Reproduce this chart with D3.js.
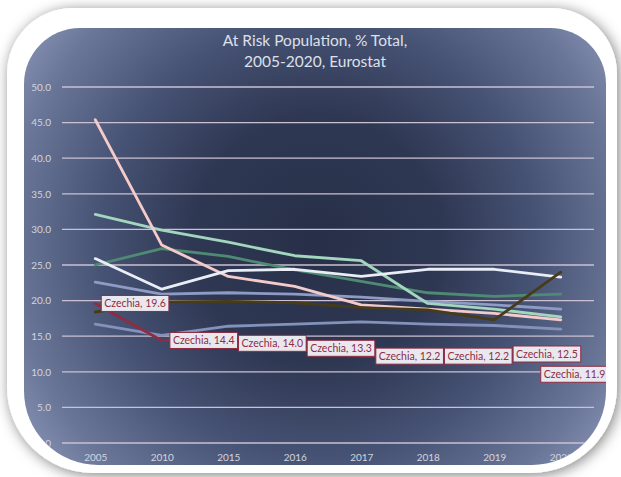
<!DOCTYPE html>
<html>
<head>
<meta charset="utf-8">
<script src="https://cdn.jsdelivr.net/npm/d3@7"></script>
<style>
  html, body { margin: 0; padding: 0; background: #ffffff; }
  svg { display: block; }
</style>
</head>
<body>
<div id="chartDiv"></div>
<script>
// At risk population chart

var years = ['2005', '2010', '2015', '2016', '2017', '2018', '2019', '2020'];
var yTicks = [0, 5, 10, 15, 20, 25, 30, 35, 40, 45, 50];

var netherlands = [16.7, 15.1, 16.4, 16.7, 17.0, 16.7, 16.5, 16.0];
var belgium     = [22.6, 20.9, 21.1, 20.9, 20.5, 19.9, 19.4, 18.8];
var ireland     = [25.0, 27.3, 26.2, 24.3, 22.7, 21.1, 20.6, 20.9];
var hungary     = [32.1, 29.9, 28.2, 26.3, 25.6, 19.6, 18.8, 17.7];
var poland      = [45.4, 27.8, 23.4, 22.0, 19.4, 18.8, 18.2, 17.3];
var estonia     = [25.9, 21.6, 24.2, 24.4, 23.4, 24.4, 24.4, 23.3];
var germany     = [18.4, 19.8, 19.9, 19.7, 19.0, 18.7, 17.3, 24.0];
var czechia     = [19.6, 14.4, 14.0, 13.3, 12.2, 12.2, 12.5, 11.9];

var chartWidth = 621;
var chartHeight = 477;

var series = [
  { name: 'Netherlands', values: netherlands, color: '#8392bb' },
  { name: 'Belgium', values: belgium, color: '#8e9bc4' },
  { name: 'Ireland', values: ireland, color: '#4f8a72' },
  { name: 'Hungary', values: hungary, color: '#a2d6bf' },
  { name: 'Poland', values: poland, color: '#f3cbca' },
  { name: 'Estonia', values: estonia, color: '#e9edf6' },
  { name: 'Germany', values: germany, color: '#463c1a' },
  { name: 'Czechia', values: czechia, color: '#8e2c42' }
];

// rounded rect with separate top / bottom corner radius
function roundedPath(x0, y0, w, h, rt, rb) {
  var x1 = x0 + w, y1 = y0 + h;
  return 'M' + (x0 + rt) + ',' + y0 +
         'H' + (x1 - rt) + 'A' + rt + ',' + rt + ' 0 0 1 ' + x1 + ',' + (y0 + rt) +
         'V' + (y1 - rb) + 'A' + rb + ',' + rb + ' 0 0 1 ' + (x1 - rb) + ',' + y1 +
         'H' + (x0 + rb) + 'A' + rb + ',' + rb + ' 0 0 1 ' + x0 + ',' + (y1 - rb) +
         'V' + (y0 + rt) + 'A' + rt + ',' + rt + ' 0 0 1 ' + (x0 + rt) + ',' + y0 + 'Z';
}

var svg = d3.select('#chartDiv')
            .append('svg')
            .attr('width', chartWidth)
            .attr('height', chartHeight);

var defs = svg.append('defs');

var shadow = defs.append('filter')
                 .attr('id', 'shadow')
                 .attr('x', '-20%').attr('y', '-20%')
                 .attr('width', '140%').attr('height', '140%');
shadow.append('feDropShadow')
      .attr('dx', 2).attr('dy', 2)
      .attr('stdDeviation', 7)
      .attr('flood-color', '#000')
      .attr('flood-opacity', 0.5);

var grad = defs.append('radialGradient')
               .attr('id', 'panelGrad')
               .attr('gradientUnits', 'userSpaceOnUse')
               .attr('cx', 318).attr('cy', 240).attr('r', 360);
[[0, '#272f48'], [0.35, '#2f3853'], [0.6, '#465274'], [0.85, '#6a7698'], [1, '#8893b4']].forEach(function(s) {
  grad.append('stop').attr('offset', s[0]).attr('stop-color', s[1]);
});

var panelD = roundedPath(24, 28, 582, 437, 56, 74);

defs.append('clipPath')
    .attr('id', 'panelClip')
    .append('path')
    .attr('d', panelD);

// white frame
svg.append('path')
   .attr('d', roundedPath(7, 8, 610, 465, 66, 86))
   .attr('fill', '#ffffff')
   .attr('filter', 'url(#shadow)');

svg.append('path')
   .attr('d', panelD)
   .attr('fill', 'url(#panelGrad)');

var g = svg.append('g').attr('clip-path', 'url(#panelClip)');

// Title
var title = g.append('text')
             .attr('text-anchor', 'middle')
             .attr('fill', '#dde0e9')
             .style('font-family', 'Lato, "Open Sans", sans-serif')
             .style('font-size', '15.5px');
title.append('tspan').attr('x', 315).attr('y', 46).text('At Risk Population, % Total,');
title.append('tspan').attr('x', 315).attr('y', 67).text('2005-2020, Eurostat');

var x = d3.scalePoint().domain(years).range([62, 594]).padding(0.5);
var y = d3.scaleLinear().domain([0, 50]).range([443, 87]);

// gridlines
g.append('g')
 .selectAll('line')
 .data(yTicks)
 .enter()
 .append('line')
 .attr('x1', 62).attr('x2', 594)
 .attr('y1', function(d) { return y(d); })
 .attr('y2', function(d) { return y(d); })
 .attr('stroke', '#cbc1d3')
 .attr('stroke-width', 1.3);

// y axis labels
var yAxis = g.append('g')
             .attr('transform', 'translate(52,0)')
             .call(d3.axisLeft(y).tickValues(yTicks).tickFormat(d3.format('.1f')).tickSize(0).tickPadding(1));
yAxis.select('.domain').remove();
yAxis.selectAll('text')
     .attr('fill', '#d2d5df')
     .style('font-family', 'Lato, sans-serif')
     .style('font-size', '10px');

// x axis labels
var xAxis = g.append('g')
             .attr('transform', 'translate(0,452)')
             .call(d3.axisBottom(x).tickSize(0).tickPadding(2));
xAxis.select('.domain').remove();
xAxis.selectAll('text')
     .attr('fill', '#d2d5df')
     .style('font-family', 'Lato, sans-serif')
     .style('font-size', '10px');

// lines
var line = d3.line()
             .x(function(d, i) { return x(years[i]); })
             .y(function(d) { return y(d); });

g.selectAll('path.series')
 .data(series)
 .enter()
 .append('path')
 .attr('class', 'series')
 .attr('d', function(d) { return line(d.values); })
 .attr('fill', 'none')
 .attr('stroke', function(d) { return d.color; })
 .attr('stroke-width', 2.8)
 .attr('stroke-linejoin', 'round')
 .attr('stroke-linecap', 'round');

// Czechia data labels
var labelColor = '#8e2c42';
var prevRight = -Infinity;
czechia.forEach(function(v, i) {
  var px = x(years[i]);
  var py = y(v);
  var lg = g.append('g');
  var box = lg.append('rect')
              .attr('fill', '#e9e8ef')
              .attr('stroke', labelColor)
              .attr('stroke-width', 1);
  var t = lg.append('text')
            .attr('fill', labelColor)
            .style('font-family', 'Lato, sans-serif')
            .style('font-size', '10.5px')
            .text('Czechia, ' + d3.format('.1f')(v));
  var w = t.node().getComputedTextLength() + 6;
  var h = 16;
  var left = Math.max(px + 6, prevRight + 1);
  var top = py - h / 2;
  if (left + w > 606) {
    // no room on the right: put it under the point
    left = px - 20;
    top = py + 8;
  }
  box.attr('x', left).attr('y', top).attr('width', w).attr('height', h);
  t.attr('x', left + 3).attr('y', top + h / 2).attr('dy', '0.35em');
  prevRight = left + w;
});
</script>
</body>
</html>
